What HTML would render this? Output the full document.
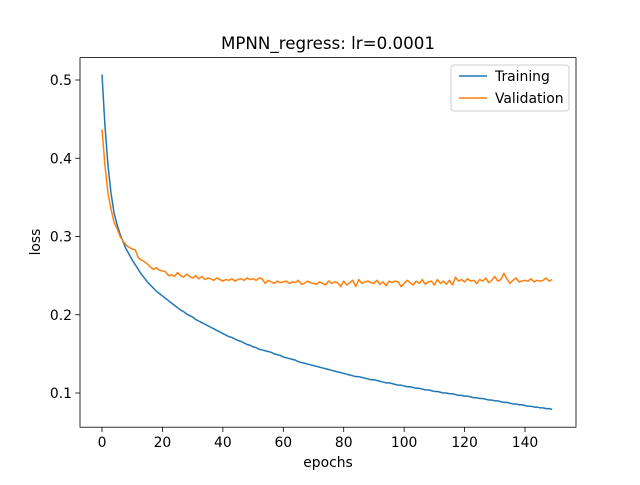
<!DOCTYPE html>
<html><head><meta charset="utf-8"><style>
body{margin:0;background:#fff;font-family:"Liberation Sans","DejaVu Sans",sans-serif}
svg text{font-family:"DejaVu Sans","Liberation Sans",sans-serif;fill:#000}
</style></head><body>
<svg id="chart" width="640" height="480">
<rect x="0" y="0" width="640" height="480" fill="#fff"/>
<text x="328" y="49" font-size="16.7" text-anchor="middle">MPNN_regress: lr=0.0001</text>
<text x="328" y="467" font-size="13.9" text-anchor="middle">epochs</text>
<text x="0" y="0" font-size="13.9" text-anchor="middle" transform="translate(40,242) rotate(-90)">loss</text>
<g id="ticks"></g>
<g id="series"></g>
<rect x="80" y="57.6" width="496" height="369.6" fill="none" stroke="#000" stroke-width="0.8"/>
<g>
<rect x="451" y="65" width="118" height="46" rx="3" fill="#fff" fill-opacity="0.8" stroke="#ccc" stroke-width="1"/>
<line x1="459" y1="76" x2="487" y2="76" stroke="#1f77b4" stroke-width="1.5"/>
<text x="495" y="81" font-size="13.9">Training</text>
<line x1="459" y1="98" x2="487" y2="98" stroke="#ff7f0e" stroke-width="1.5"/>
<text x="495" y="103" font-size="13.9">Validation</text>
</g>
</svg>
<script>
const xTicks=[0,20,40,60,80,100,120,140];
const yTicks=[0.1,0.2,0.3,0.4,0.5];
const training=[.507,.44,.39,.355,.33,.315,.303,.293,.284,.277,
.270,.264,.258,.252,.247,.242,.238,.234,.230,.227,
.224,.221,.218,.215,.212,.209,.206,.204,.201,.199,
.197,.194,.192,.190,.188,.186,.184,.182,.180,.178,
.176,.174,.172,.171,.169,.167,.166,.164,.162,.161,
.159,.158,.156,.155,.154,.153,.152,.150,.149,.148,
.146,.145,.144,.143,.142,.140,.139,.138,.137,.136,
.135,.134,.133,.132,.131,.130,.129,.128,.127,.126,
.125,.124,.123,.122,.121,.121,.120,.119,.118,.117,
.117,.116,.115,.114,.113,.113,.112,.111,.110,.110,
.109,.108,.108,.107,.106,.106,.105,.104,.104,.103,
.102,.102,.101,.100,.100,.099,.099,.098,.097,.097,
.096,.096,.095,.094,.094,.093,.093,.092,.091,.091,
.090,.090,.089,.088,.088,.087,.086,.086,.085,.085,
.084,.083,.083,.082,.082,.081,.081,.080,.080,.079];
const validation=[.437,.39,.355,.335,.318,.31,.30,.294,.289,.286,
.284,.283,.273,.270,.268,.265,.261,.258,.260,.257,
.256,.255,.250,.251,.249,.254,.250,.248,.252,.249,
.247,.250,.246,.249,.245,.247,.246,.244,.247,.245,
.243,.245,.244,.246,.243,.245,.246,.244,.247,.245,
.246,.244,.247,.246,.240,.244,.242,.240,.243,.241,
.242,.243,.240,.242,.241,.244,.239,.240,.243,.241,
.240,.239,.242,.240,.238,.243,.240,.242,.241,.236,
.243,.238,.241,.244,.236,.245,.240,.242,.243,.241,
.240,.244,.239,.242,.237,.243,.241,.243,.242,.236,
.240,.244,.241,.238,.243,.240,.245,.239,.242,.243,
.238,.245,.240,.243,.239,.244,.238,.248,.243,.245,
.242,.246,.243,.244,.240,.245,.243,.247,.241,.244,
.249,.243,.245,.253,.246,.240,.244,.247,.242,.243,
.244,.243,.246,.242,.244,.243,.244,.247,.243,.245];
const NS='http://www.w3.org/2000/svg';
function xs(v){return 102+v*(423/140);}
function ys(v){return 393-(v-0.1)*(313/0.4);}
const tg=document.getElementById('ticks');
xTicks.forEach(t=>{
 const l=document.createElementNS(NS,'line');
 l.setAttribute('x1',xs(t));l.setAttribute('x2',xs(t));l.setAttribute('y1',427.2);l.setAttribute('y2',432);
 l.setAttribute('stroke','#000');l.setAttribute('stroke-width','0.8');
 
 
 tg.appendChild(l);
 const tx=document.createElementNS(NS,'text');
 tx.setAttribute('x',xs(t));tx.setAttribute('y',447);tx.setAttribute('font-size','13.9');tx.setAttribute('text-anchor','middle');
 tx.textContent=t;
 
 
 tg.appendChild(tx);
});
yTicks.forEach(t=>{
 const l=document.createElementNS(NS,'line');
 l.setAttribute('x1',75.2);l.setAttribute('x2',80);l.setAttribute('y1',ys(t));l.setAttribute('y2',ys(t));
 l.setAttribute('stroke','#000');l.setAttribute('stroke-width','0.8');
 
 
 tg.appendChild(l);
 const tx=document.createElementNS(NS,'text');
 tx.setAttribute('x',72);tx.setAttribute('y',ys(t)+5);tx.setAttribute('font-size','13.9');tx.setAttribute('text-anchor','end');
 tx.textContent=t.toFixed(1);
 
 
 tg.appendChild(tx);
});
const sg=document.getElementById('series');
function draw(arr,color,name){
 const p=document.createElementNS(NS,'polyline');
 p.setAttribute('points',arr.map((v,i)=>xs(i).toFixed(2)+','+ys(v).toFixed(2)).join(' '));
 p.setAttribute('fill','none');p.setAttribute('stroke',color);p.setAttribute('stroke-width','1.5');
 p.setAttribute('stroke-linejoin','round');
 
 
 sg.appendChild(p);
}
draw(training,'#1f77b4','training-line');
draw(validation,'#ff7f0e','validation-line');
</script>
</body></html>
